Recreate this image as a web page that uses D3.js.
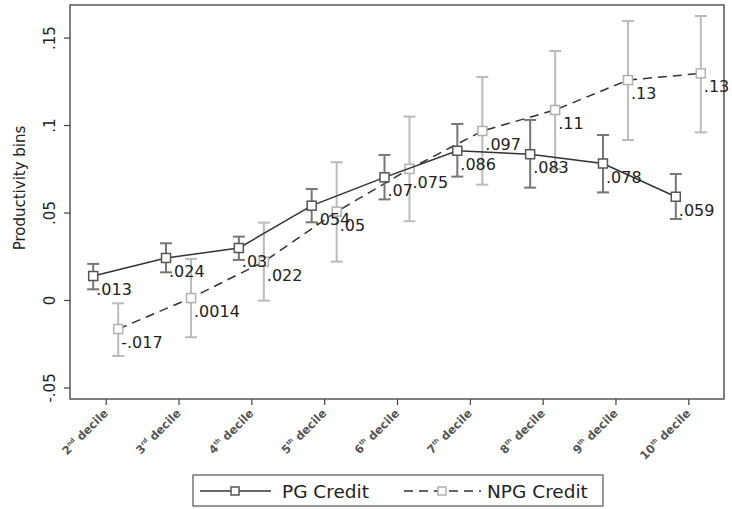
<!DOCTYPE html>
<html><head><meta charset="utf-8">
<script src="https://cdn.jsdelivr.net/npm/d3@7"></script>
<style>body{margin:0;background:#fff}svg{display:block}text{font-family:"DejaVu Sans",sans-serif}</style>
</head><body><svg id="c" width="732" height="509"></svg>
<script>
const categories = [2,3,4,5,6,7,8,9,10];
const suffixes = ["nd","rd","th","th","th","th","th","th","th"];
const pgValues = [0.0137,0.024,0.0297,0.0539,0.0701,0.0853,0.0833,0.078,0.059];
const pgLo = [0.0061,0.0158,0.0229,0.0444,0.0575,0.0705,0.0642,0.0615,0.0463];
const pgHi = [0.0206,0.0324,0.0362,0.0634,0.0829,0.1006,0.1029,0.0943,0.072];
const pgLabels = [".013",".024",".03",".054",".07",".086",".083",".078",".059"];
const npgValues = [-0.0166,0.0011,0.0219,0.0505,0.0749,0.0966,0.1086,0.1257,0.1295];
const npgLo = [-0.032,-0.0213,-0.0004,0.0219,0.045,0.0659,0.0749,0.0914,0.0958];
const npgHi = [-0.0019,0.0235,0.0442,0.0787,0.1048,0.1274,0.1423,0.1594,0.1623];
const npgLabels = ["-.017",".0014",".022",".05",".075",".097",".11",".13",".13"];
const yTicks = [-0.05,0,0.05,0.1,0.15];
const yTickLabels = ["-.05","0",".05",".1",".15"];
const seriesNames = ["PG Credit","NPG Credit"];

const svg = d3.select("#c");
const L=70,R=724,T=5,B=399;
const x = d3.scaleLinear().domain([2,10]).range([105.7,688.3]);
const y = d3.scaleLinear().domain([-0.0566,0.1686]).range([B,T]);
const off = 12.5;

svg.append("rect").attr("x",L).attr("y",T).attr("width",R-L).attr("height",B-T)
  .attr("fill","none").attr("stroke","#555").attr("stroke-width",1.5);

// y axis
const ya = svg.append("g").attr("transform",`translate(${L},0)`)
  .call(d3.axisLeft(y).tickValues(yTicks).tickSize(6).tickFormat((d,i)=>yTickLabels[i]));
ya.select(".domain").remove();
ya.selectAll("line").attr("stroke","#444").attr("stroke-width",1.2);
ya.selectAll(".tick text").attr("x",0).attr("y",0).attr("dy",null)
  .attr("transform","translate(-20,0) rotate(-90)")
  .attr("text-anchor","middle").attr("dominant-baseline","central")
  .attr("font-size",15).attr("fill","#222");
svg.append("text").attr("transform",`translate(25,${(T+B)/2-14}) rotate(-90)`)
  .attr("text-anchor","middle").attr("font-size",15).attr("fill","#222").text("Productivity bins");

// x axis
const xa = svg.append("g").attr("transform",`translate(0,${B})`)
  .call(d3.axisBottom(x).tickValues(categories).tickSize(6).tickFormat(""));
xa.select(".domain").remove();
xa.selectAll("line").attr("stroke","#444").attr("stroke-width",1.2);
categories.forEach((c,i)=>{
  const t = svg.append("text").attr("transform",`translate(${x(c)+3},${B+15}) rotate(-45)`)
    .attr("text-anchor","end").attr("font-size",11.5).attr("font-weight","bold").attr("fill","#555");
  t.append("tspan").text(c);
  t.append("tspan").attr("font-size",6).attr("dy",-5).text(suffixes[i]);
  t.append("tspan").attr("dy",5).text(" decile");
});

function drawSeries(vals,lo,hi,labels,dx,barColor,markColor,dash){
  const g = svg.append("g");
  g.selectAll("g.err").data(categories).join("g").attr("class","err").each(function(c,i){
    const xx = x(c)+dx, s=d3.select(this);
    s.append("line").attr("x1",xx).attr("x2",xx).attr("y1",y(lo[i])).attr("y2",y(hi[i])).attr("stroke",barColor).attr("stroke-width",2);
    [lo[i],hi[i]].forEach(v=>s.append("line").attr("x1",xx-6).attr("x2",xx+6).attr("y1",y(v)).attr("y2",y(v)).attr("stroke",barColor).attr("stroke-width",2));
  });
  const line = d3.line().x((d,i)=>x(categories[i])+dx).y(d=>y(d));
  g.append("path").attr("d",line(vals)).attr("fill","none").attr("stroke","#333").attr("stroke-width",1.5)
    .attr("stroke-dasharray",dash);
  g.selectAll("rect").data(vals).join("rect").attr("x",(d,i)=>x(categories[i])+dx-4.5).attr("y",d=>y(d)-4.5)
    .attr("width",9).attr("height",9).attr("fill","#fff").attr("stroke",markColor).attr("stroke-width",1.5);
  g.selectAll("text").data(vals).join("text").attr("x",(d,i)=>x(categories[i])+dx+3).attr("y",d=>y(d)+19)
    .attr("font-size",16).attr("fill","#222").text((d,i)=>labels[i]);
}
drawSeries(npgValues,npgLo,npgHi,npgLabels,off,"#bbbbbb","#b0b0b0","9,6");
drawSeries(pgValues,pgLo,pgHi,pgLabels,-off,"#777777","#555555",null);

// legend
const lg = svg.append("g");
lg.append("rect").attr("x",193).attr("y",475).attr("width",410).attr("height",31).attr("fill","#fff").attr("stroke","#555").attr("stroke-width",1.2);
const leg = [{x1:200,x2:271,mx:235,tx:282,dash:null,mc:"#555"},{x1:404,x2:481,mx:442,tx:487,dash:"9,6",mc:"#b0b0b0"}];
leg.forEach((l,i)=>{
  lg.append("line").attr("x1",l.x1).attr("x2",l.x2).attr("y1",491).attr("y2",491).attr("stroke","#333").attr("stroke-width",1.5).attr("stroke-dasharray",l.dash);
  lg.append("rect").attr("x",l.mx-4).attr("y",487).attr("width",8).attr("height",8).attr("fill","#fff").attr("stroke",l.mc).attr("stroke-width",1.5);
  lg.append("text").attr("x",l.tx).attr("y",498).attr("font-size",18.5).attr("fill","#222").text(seriesNames[i]);
});
</script></body></html>
